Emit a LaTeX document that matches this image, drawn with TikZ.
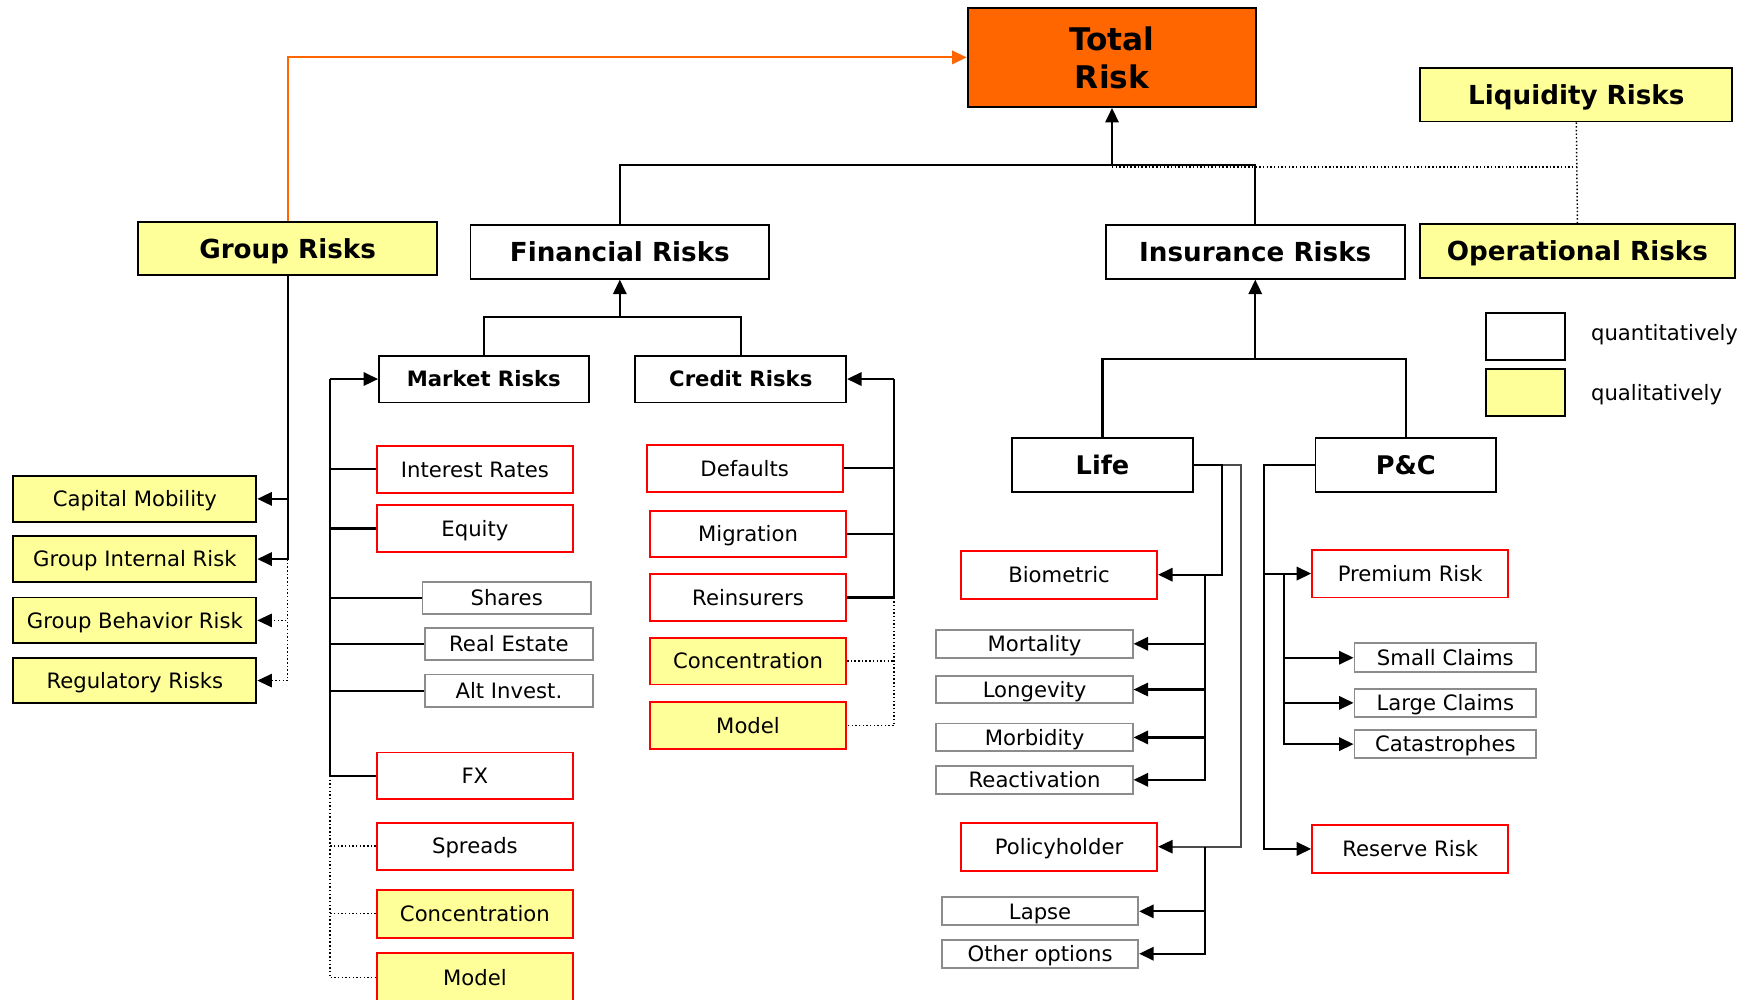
\documentclass[tikz,border=0pt]{standalone}
\usepackage{fontspec}
\setmainfont{DejaVu Sans}
\usetikzlibrary{arrows.meta}
\definecolor{torange}{HTML}{FF6600}
\definecolor{tyellow}{HTML}{FFFF99}
\definecolor{tred}{HTML}{FF0000}
\definecolor{tgray}{HTML}{8C8C8C}
\begin{document}
\begin{tikzpicture}[x=1pt,y=-1pt,
  bx/.style={draw, line width=1.7pt, inner sep=0pt, text height=16pt, text depth=2pt, font=\fontsize{19}{22}\selectfont},
  head/.style={bx, font=\bfseries\fontsize{23.5}{28}\selectfont, minimum height=48, text height=19pt, text depth=2pt},
  sub/.style={bx, font=\bfseries\fontsize{19}{22}\selectfont, minimum height=42},
  qbox/.style={bx, draw=black},
  ybox/.style={bx, draw=black, fill=tyellow},
  rbox/.style={bx, draw=tred, fill=white},
  rybox/.style={bx, draw=tred, fill=tyellow},
  gbox/.style={bx, draw=tgray, fill=white},
  conn/.style={line width=1.9pt, draw=black},
  tip/.style={-{Triangle[length=13pt,width=12pt,color=black]}},
  arr/.style={conn, tip},
  dconn/.style={line width=1.3pt, dotted},
  darr/.style={dconn, tip},
]
\useasboundingbox (0,0) rectangle (1568,897);
\fill[white] (0,0) rectangle (1568,897);

% top level
\node[head, fill=torange, minimum width=259, minimum height=89, align=center, text height=, text depth=,
      font=\bfseries\fontsize{28}{34}\selectfont] (total) at (997.5,51.5) {Total\\Risk};
\node[head, fill=tyellow, minimum width=280] (liq) at (1414,85) {Liquidity Risks};
\node[head, fill=tyellow, minimum width=282] (op) at (1415,225) {Operational Risks};
\node[head, fill=tyellow, minimum width=268] (group) at (258,223) {Group Risks};
\node[head, fill=white, minimum width=268] (fin) at (556,226) {Financial Risks};
\node[head, fill=white, minimum width=268] (ins) at (1126,226) {Insurance Risks};

% legend
\node[qbox, minimum width=71, minimum height=42] (leg1) at (1368.5,302) {};
\node[ybox, minimum width=71, minimum height=42] (leg2) at (1368.5,352) {};
\node[anchor=west, inner sep=0pt, font=\fontsize{19}{22}\selectfont] (leg1t) at (1427,300) {quantitatively};
\node[anchor=west, inner sep=0pt, font=\fontsize{19}{22}\selectfont] (leg2t) at (1427,354) {qualitatively};

% group risks children
\node[ybox, minimum width=218, minimum height=41] (capm) at (121,447.5) {Capital Mobility};
\node[ybox, minimum width=218, minimum height=41] (gint) at (121,501.5) {Group Internal Risk};
\node[ybox, minimum width=218, minimum height=41] (gbeh) at (121,556.5) {Group Behavior Risk};
\node[ybox, minimum width=218, minimum height=41] (reg) at (121,610.5) {Regulatory Risks};

% financial
\node[sub, fill=white, minimum width=188] (mkt) at (434,340) {Market Risks};
\node[sub, fill=white, minimum width=189] (cred) at (664.5,340) {Credit Risks};

\node[rbox, minimum width=176, minimum height=42] (ir) at (426,421) {Interest Rates};
\node[rbox, minimum width=176, minimum height=42] (eq) at (426,474) {Equity};
\node[gbox, minimum width=151, minimum height=29] (sh) at (454.5,536.5) {Shares};
\node[gbox, minimum width=151, minimum height=29] (re) at (456.5,577.5) {Real Estate};
\node[gbox, minimum width=151, minimum height=29] (alt) at (456.5,619.5) {Alt Invest.};
\node[rbox, minimum width=176, minimum height=42] (fx) at (426,696) {FX};
\node[rbox, minimum width=176, minimum height=42] (spr) at (426,759) {Spreads};
\node[rybox, minimum width=176, minimum height=43] (conc1) at (426,819.5) {Concentration};
\node[rybox, minimum width=176, minimum height=44] (mod1) at (426,877) {Model};

\node[rbox, minimum width=176, minimum height=42] (def) at (668,420) {Defaults};
\node[rbox, minimum width=176, minimum height=42] (mig) at (671,479) {Migration};
\node[rbox, minimum width=176, minimum height=42] (reins) at (671,536) {Reinsurers};
\node[rybox, minimum width=176, minimum height=42] (conc2) at (671,593) {Concentration};
\node[rybox, minimum width=176, minimum height=42] (mod2) at (671,651) {Model};

% insurance
\node[head, fill=white, minimum width=162, font=\bfseries\fontsize{23}{28}\selectfont] (life) at (989,417) {Life};
\node[head, fill=white, minimum width=162, font=\bfseries\fontsize{23}{28}\selectfont] (pc) at (1261,417) {P\&C};

\node[rbox, minimum width=176, minimum height=43] (bio) at (950,515.5) {Biometric};
\node[gbox, minimum width=176, minimum height=25] (mort) at (928,577.5) {Mortality};
\node[gbox, minimum width=176, minimum height=25] (long) at (928,618.5) {Longevity};
\node[gbox, minimum width=176, minimum height=25] (morb) at (928,661.5) {Morbidity};
\node[gbox, minimum width=176, minimum height=25] (react) at (928,699.5) {Reactivation};
\node[rbox, minimum width=176, minimum height=43] (pol) at (950,759.5) {Policyholder};
\node[gbox, minimum width=176, minimum height=25] (lapse) at (933,817.5) {Lapse};
\node[gbox, minimum width=176, minimum height=25] (other) at (933,855.5) {Other options};

\node[rbox, minimum width=176, minimum height=43] (prem) at (1265,514.5) {Premium Risk};
\node[gbox, minimum width=163, minimum height=26] (small) at (1296.5,590) {Small Claims};
\node[gbox, minimum width=163, minimum height=25] (large) at (1296.5,630.5) {Large Claims};
\node[gbox, minimum width=163, minimum height=25] (cat) at (1296.5,667.5) {Catastrophes};
\node[rbox, minimum width=176, minimum height=43] (res) at (1265,761.5) {Reserve Risk};

% ---- connectors ----
\coordinate (j1) at (997.5,148);
\coordinate (j1d) at (997.5,150);
\coordinate (liqd) at (1414,150);
\draw[dconn] (j1d) -- (liqd);
\draw[dconn] (liq.south) -- (op.north);
\draw[conn] (fin.north) |- (j1) -| (ins.north);
\draw[arr] (j1) -- (total.south);
\draw[line width=1.7pt, torange, -{Triangle[length=13pt,width=12pt]}] (group.north) |- (total.west);

% group
\draw[arr] (group.south) |- (capm.east);
\draw[arr] (group.south) |- (gint.east);
\coordinate (gj) at (258,501.5);
\draw[darr] (gj) |- (gbeh.east);
\draw[darr] (gj) |- (reg.east);

% financial -> market, credit
\coordinate (fj) at (556,284);
\draw[conn] (mkt.north) |- (fj) -| (cred.north);
\draw[arr] (fj) -- (fin.south);

% market children
\coordinate (mv) at (296,340);
\draw[arr] (mv) -- (mkt.west);
\draw[conn] (mv) |- (fx.west);
\draw[conn] (ir.west) -- (ir.west -| mv);
\draw[line width=2.6pt] (eq.west) -- (eq.west -| mv);
\draw[conn] (sh.west) -- (sh.west -| mv);
\draw[conn] (re.west) -- (re.west -| mv);
\draw[conn] (alt.west) -- (alt.west -| mv);
\draw[dconn] (fx.west -| mv) |- (mod1.west);
\draw[dconn] (spr.west) -- (spr.west -| mv);
\draw[dconn] (conc1.west) -- (conc1.west -| mv);

% credit children
\coordinate (cv) at (802,340);
\draw[arr] (cv) -- (cred.east);
\draw[conn] (cv) |- (reins.east);
\draw[conn] (def.east) -- (def.east -| cv);
\draw[conn] (mig.east) -- (mig.east -| cv);
\draw[dconn] (reins.east -| cv) |- (mod2.east);
\draw[dconn] (conc2.east) -- (conc2.east -| cv);

% insurance -> life, p&c
\coordinate (ij) at (1126,322);
\draw[conn] (life.north) |- (ij) -| (pc.north);
\draw[arr] (ij) -- (ins.south);

% life
\coordinate (bj) at (1096,515.5);
\coordinate (pj) at (1113,759.5);
\draw[line width=1.5pt, draw=black!70, tip] (life.east) -| (pj) -- (pol.east);
\draw[arr] (life.east) -| (bj) -- (bio.east);
\coordinate (bv) at (1081,515.5);
\draw[arr] (bv) |- (react.east);
\draw[arr] (mort.east -| bv) -- (mort.east);
\draw[arr] (long.east -| bv) -- (long.east);
\draw[arr] (morb.east -| bv) -- (morb.east);
\coordinate (pv) at (1081,759.5);
\draw[arr] (pv) |- (other.east);
\draw[arr] (lapse.east -| pv) -- (lapse.east);

% p&c
\coordinate (cj) at (1134,417);
\draw[arr] (pc.west) -- (cj) |- (res.west);
\draw[arr] (cj |- prem.west) -- (prem.west);
\coordinate (sv) at (1152,514.5);
\draw[arr] (sv) |- (cat.west);
\draw[arr] (small.west -| sv) -- (small.west);
\draw[arr] (large.west -| sv) -- (large.west);
\end{tikzpicture}
\end{document}
